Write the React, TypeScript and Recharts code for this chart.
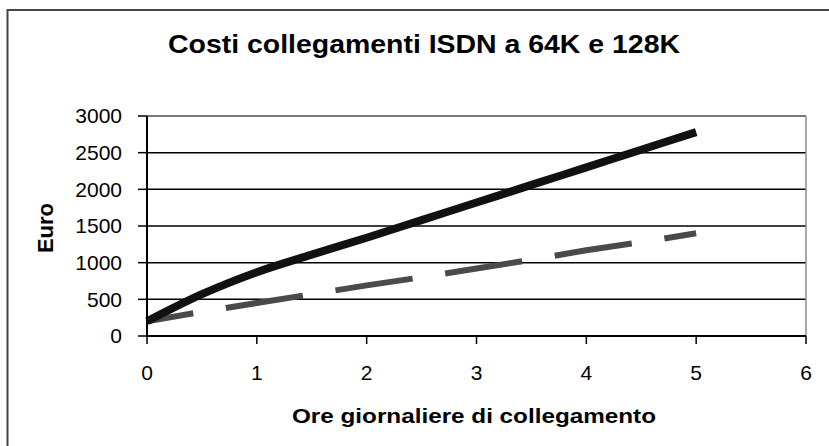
import React from 'react';
import {
  LineChart,
  Line,
  XAxis,
  YAxis,
  CartesianGrid,
  ReferenceLine,
} from 'recharts';

const hours = [0, 0.5, 1, 1.5, 2, 2.5, 3, 3.5, 4, 4.5, 5];
const cost128 = [200, 570, 870, 1110, 1340, 1580, 1820, 2060, 2300, 2540, 2780];
const cost64 = [200, 330, 450, 570, 690, 800, 920, 1040, 1170, 1280, 1400];
const xTicks = [0, 1, 2, 3, 4, 5, 6];
const yTicks = [0, 500, 1000, 1500, 2000, 2500, 3000];

const FONT = '"Liberation Sans", Arial, sans-serif';

const data = hours.map((h, i) => ({
  h,
  isdn128: cost128[i],
  isdn64: cost64[i],
}));

export default function App() {
  return (
    <div style={{ position: 'absolute', left: 0, top: 0, width: 829, height: 446, background: '#fff' }}>
      <LineChart
        width={829}
        height={446}
        data={data}
        margin={{ top: 116, right: 23, bottom: 50, left: 87 }}
      >
        <CartesianGrid horizontal vertical={false} stroke="#000" strokeWidth={1.5} />
        <XAxis
          dataKey="h"
          type="number"
          domain={[0, 6]}
          ticks={xTicks}
          height={60}
          tickSize={8}
          tickMargin={21}
          axisLine={{ stroke: '#000', strokeWidth: 2 }}
          tickLine={{ stroke: '#000', strokeWidth: 1.5 }}
          tick={{ fontSize: 21, fill: '#000', fontFamily: FONT }}
        />
        <YAxis
          type="number"
          domain={[0, 3000]}
          ticks={yTicks}
          width={60}
          tickSize={9}
          tickMargin={16}
          axisLine={{ stroke: '#000', strokeWidth: 2 }}
          tickLine={{ stroke: '#000', strokeWidth: 1.5 }}
          tick={{ fontSize: 21, fill: '#000', fontFamily: FONT }}
        />
        <ReferenceLine y={3000} stroke="#8c8c8c" strokeWidth={1.5} />
        <ReferenceLine x={6} stroke="#8c8c8c" strokeWidth={1.5} />
        <Line
          type="linear"
          dataKey="isdn64"
          stroke="#4a4a4a"
          strokeWidth={6}
          strokeDasharray="78 33"
          strokeDashoffset={31}
          dot={false}
          activeDot={false}
          isAnimationActive={false}
        />
        <Line
          type="monotone"
          dataKey="isdn128"
          stroke="#111"
          strokeWidth={8}
          dot={false}
          activeDot={false}
          isAnimationActive={false}
        />
      </LineChart>
      <svg
        width={829}
        height={446}
        style={{ position: 'absolute', left: 0, top: 0, pointerEvents: 'none' }}
      >
        <path d="M7.5 446 L7.5 10 L829 10" fill="none" stroke="#444" strokeWidth={2} />
        <text
          x={424}
          y={53}
          textAnchor="middle"
          fontSize={25}
          fontWeight="bold"
          fontFamily={FONT}
          textLength={512}
          lengthAdjust="spacingAndGlyphs"
        >
          Costi collegamenti ISDN a 64K e 128K
        </text>
        <text
          transform="translate(53,228) rotate(-90)"
          textAnchor="middle"
          fontSize={22}
          fontWeight="bold"
          fontFamily={FONT}
        >
          Euro
        </text>
        <text
          x={474}
          y={423}
          textAnchor="middle"
          fontSize={21}
          fontWeight="bold"
          fontFamily={FONT}
          textLength={364}
          lengthAdjust="spacingAndGlyphs"
        >
          Ore giornaliere di collegamento
        </text>
      </svg>
    </div>
  );
}
